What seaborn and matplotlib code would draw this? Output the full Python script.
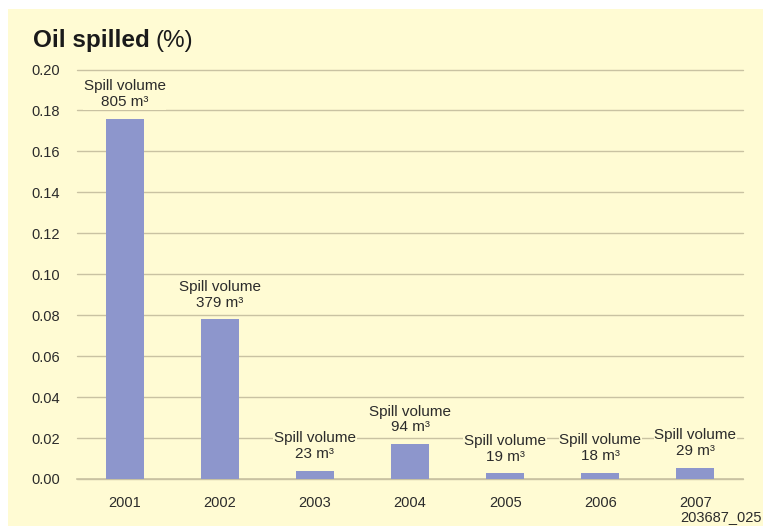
import matplotlib
matplotlib.use("Agg")
import matplotlib.pyplot as plt
from matplotlib.patches import Rectangle
import seaborn as sns
import pandas as pd

# Data
years = ["2001", "2002", "2003", "2004", "2005", "2006", "2007"]
oil_spilled_pct = [0.176, 0.078, 0.004, 0.017, 0.0028, 0.003, 0.0055]
spill_volume_m3 = [805, 379, 23, 94, 19, 18, 29]
y_ticks = [0.00, 0.02, 0.04, 0.06, 0.08, 0.10, 0.12, 0.14, 0.16, 0.18, 0.20]

cream = "#FFFBD3"
bar_color = "#8D96CC"
grid_color = "#C9C2A2"
text_color = "#2B2B2B"

sns.set_theme(style="white")
plt.rcParams["font.family"] = ["Liberation Sans", "DejaVu Sans"]

W, H = 763, 526
fig = plt.figure(figsize=(W / 100, H / 100), dpi=100, facecolor="white")
# cream panel with a thin white margin on the top and left
fig.patches.append(Rectangle((8 / W, 0), 1, 1 - 9 / H, transform=fig.transFigure,
                             facecolor=cream, edgecolor="none", zorder=-10))

ax = fig.add_axes([77 / W, 1 - 479 / H, (743 - 77) / W, (479 - 69.5) / H])
ax.set_facecolor("none")

df = pd.DataFrame({"year": years, "pct": oil_spilled_pct, "vol": spill_volume_m3})
sns.barplot(data=df, x="year", y="pct", color=bar_color, saturation=1,
            width=0.4, ax=ax, zorder=3, edgecolor="none", linewidth=0)

ax.set_xlim(-0.5, len(years) - 0.5)
ax.set_ylim(0, 0.20)
ax.set_yticks(y_ticks)
ax.set_yticklabels([f"{t:.2f}" for t in y_ticks])
ax.set_xlabel("")
ax.set_ylabel("")

for s in ["left", "right", "top"]:
    ax.spines[s].set_visible(False)
ax.spines["bottom"].set_color(grid_color)
ax.spines["bottom"].set_linewidth(1.2)

for t in y_ticks:
    ax.axhline(t, color=grid_color, lw=1.0, zorder=1, clip_on=False)

ax.tick_params(axis="y", length=0, pad=12, labelsize=10.5, labelcolor=text_color)
ax.tick_params(axis="x", which="major", length=0, pad=12, labelsize=10.5,
               labelcolor=text_color)
ax.set_xticks([i - 0.5 for i in range(len(years) + 1)], minor=True)
ax.tick_params(axis="x", which="minor", length=3, width=1, color=grid_color,
               direction="out")

for i, (p, v) in enumerate(zip(oil_spilled_pct, spill_volume_m3)):
    ax.annotate(f"Spill volume\n{v} m³", xy=(i, p), xytext=(0, 7),
                textcoords="offset points", ha="center", va="bottom",
                multialignment="center", fontsize=11, color=text_color,
                linespacing=1.15, zorder=4,
                bbox=dict(boxstyle="square,pad=0.05", facecolor=cream,
                          edgecolor="none"))

# Title: bold name followed by the unit in regular weight
t1 = fig.text(33 / W, 1 - 47 / H, "Oil spilled", fontsize=17.5, fontweight="bold",
              color="#1A1A1A", va="baseline")
fig.canvas.draw()
bb = t1.get_window_extent()
fig.text((bb.x1 + 6) / W, 1 - 47 / H, "(%)", fontsize=17.5, color="#1A1A1A",
         va="baseline")

fig.text(680 / W, 1 - 521 / H, "203687_025", fontsize=10.5, color=text_color,
         va="baseline")

fig.savefig("out.png", dpi=100, facecolor=fig.get_facecolor())
